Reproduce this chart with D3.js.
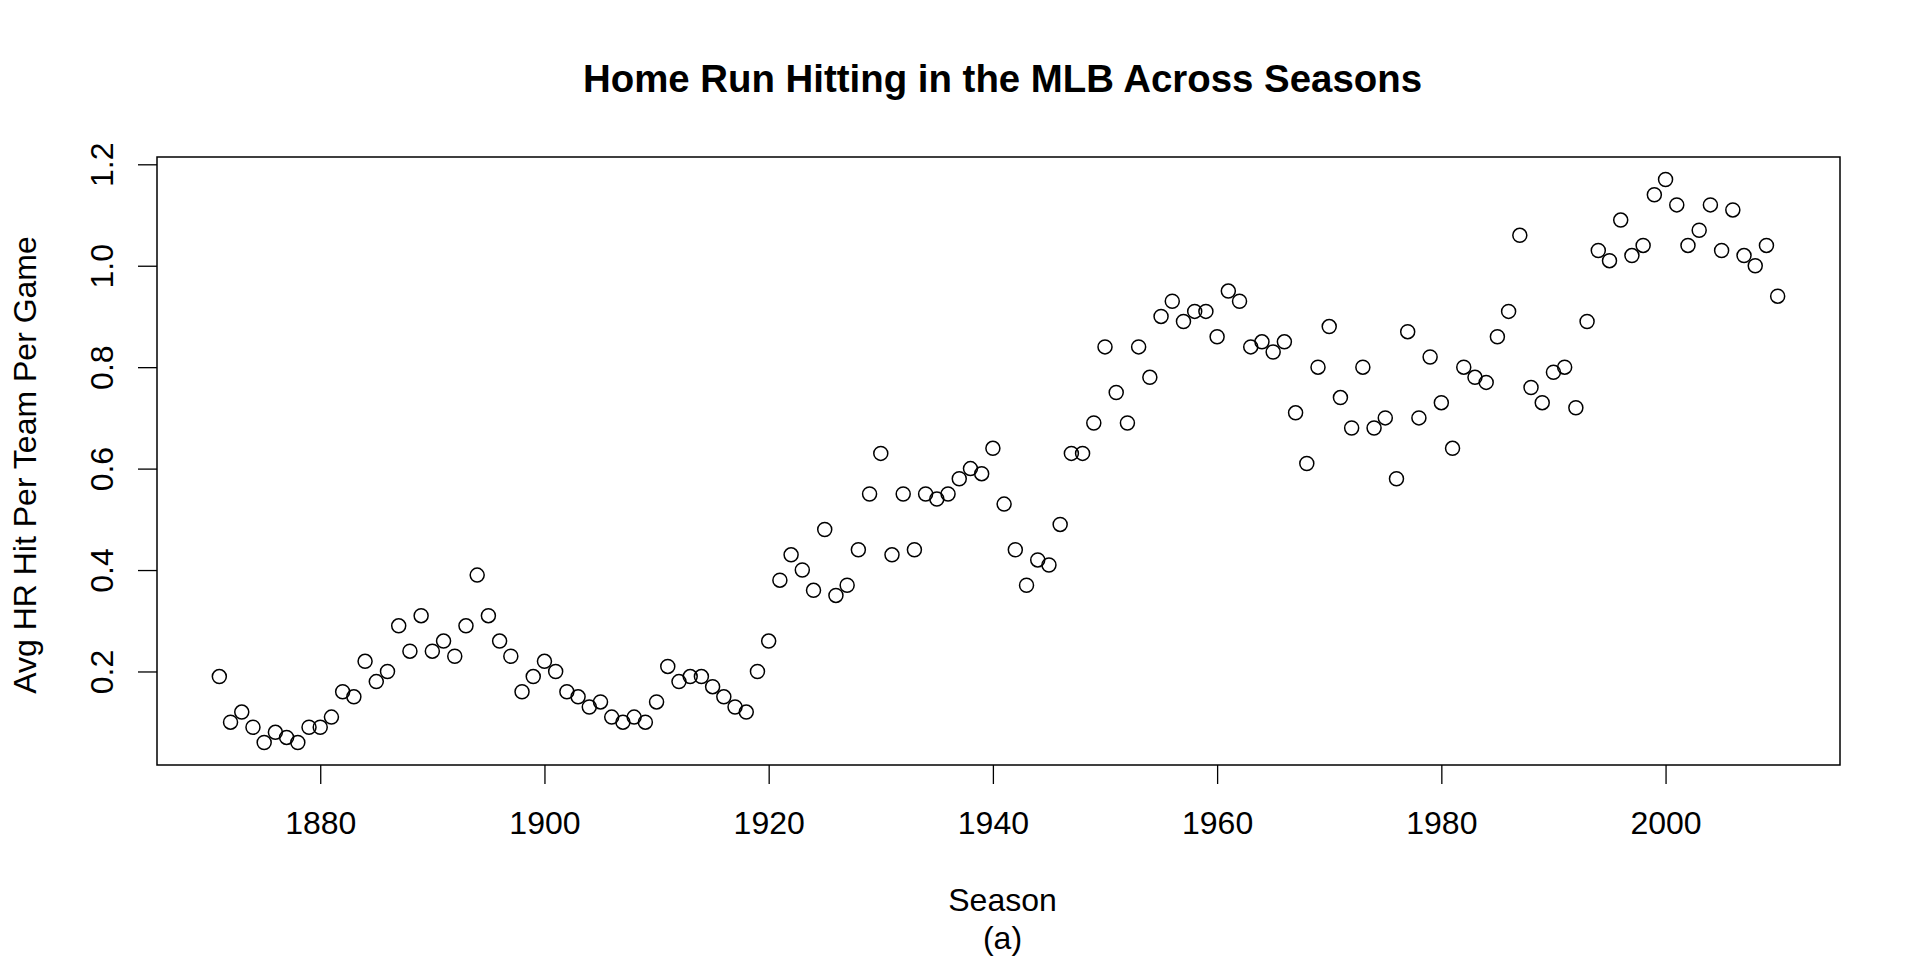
<!DOCTYPE html>
<html>
<head>
<meta charset="utf-8">
<script src="https://cdnjs.cloudflare.com/ajax/libs/d3/7.8.5/d3.min.js"></script>
<style>
  body { margin: 0; background: #fff; }
  text { font-family: "Liberation Sans", Arial, Helvetica, sans-serif; fill: #000; }
</style>
</head>
<body>
<div id="chart"></div>
<script>
// seasons 1871..2010 and average HR per team per game
var seasons = d3.range(1871, 2011);
var avgHR = [
  0.19, 0.10, 0.12, 0.09, 0.06, 0.08, 0.07, 0.06, 0.09, 0.09,   // 1871-1880
  0.11, 0.16, 0.15, 0.22, 0.18, 0.20, 0.29, 0.24, 0.31, 0.24,   // 1881-1890
  0.26, 0.23, 0.29, 0.39, 0.31, 0.26, 0.23, 0.16, 0.19, 0.22,   // 1891-1900
  0.20, 0.16, 0.15, 0.13, 0.14, 0.11, 0.10, 0.11, 0.10, 0.14,   // 1901-1910
  0.21, 0.18, 0.19, 0.19, 0.17, 0.15, 0.13, 0.12, 0.20, 0.26,   // 1911-1920
  0.38, 0.43, 0.40, 0.36, 0.48, 0.35, 0.37, 0.44, 0.55, 0.63,   // 1921-1930
  0.43, 0.55, 0.44, 0.55, 0.54, 0.55, 0.58, 0.60, 0.59, 0.64,   // 1931-1940
  0.53, 0.44, 0.37, 0.42, 0.41, 0.49, 0.63, 0.63, 0.69, 0.84,   // 1941-1950
  0.75, 0.69, 0.84, 0.78, 0.90, 0.93, 0.89, 0.91, 0.91, 0.86,   // 1951-1960
  0.95, 0.93, 0.84, 0.85, 0.83, 0.85, 0.71, 0.61, 0.80, 0.88,   // 1961-1970
  0.74, 0.68, 0.80, 0.68, 0.70, 0.58, 0.87, 0.70, 0.82, 0.73,   // 1971-1980
  0.64, 0.80, 0.78, 0.77, 0.86, 0.91, 1.06, 0.76, 0.73, 0.79,   // 1981-1990
  0.80, 0.72, 0.89, 1.03, 1.01, 1.09, 1.02, 1.04, 1.14, 1.17,   // 1991-2000
  1.12, 1.04, 1.07, 1.12, 1.03, 1.11, 1.02, 1.00, 1.04, 0.94    // 2001-2010
];
var xTicks = [1880, 1900, 1920, 1940, 1960, 1980, 2000];
var yTicks = [0.2, 0.4, 0.6, 0.8, 1.0, 1.2];

var title = "Home Run Hitting in the MLB Across Seasons";
var xLabel = "Season";
var subLabel = "(a)";
var yLabel = "Avg HR Hit Per Team Per Game";

var width = 1920,
    height = 960;

var plot = { left: 157, right: 1840, top: 157, bottom: 765 };

var svg = d3.select('#chart')
    .append('svg')
    .attr('width', width)
    .attr('height', height);

// R style axis range: data range padded by 4% each side
function padded(ext) {
    var d = (ext[1] - ext[0]) * 0.04;
    return [ext[0] - d, ext[1] + d];
}

var x = d3.scaleLinear()
    .domain(padded(d3.extent(seasons)))
    .range([plot.left, plot.right]);

var y = d3.scaleLinear()
    .domain(padded(d3.extent(avgHR)))
    .range([plot.bottom, plot.top]);

var fontSize = 32;

// x axis
var xAxis = svg.append('g')
    .attr('transform', 'translate(0,' + plot.bottom + ')')
    .call(d3.axisBottom(x).tickValues(xTicks).tickFormat(d3.format('d'))
        .tickSize(19).tickPadding(27).tickSizeOuter(0));
xAxis.select('.domain').remove();
xAxis.selectAll('.tick line').attr('stroke', '#000').attr('stroke-width', 1.3);
xAxis.selectAll('.tick text')
    .attr('font-size', fontSize)
    .attr('font-family', '"Liberation Sans", Arial, sans-serif')
    .attr('fill', '#000');

// y axis with rotated labels
var yAxis = svg.append('g')
    .attr('transform', 'translate(' + plot.left + ',0)')
    .call(d3.axisLeft(y).tickValues(yTicks).tickFormat(d3.format('.1f'))
        .tickSize(19).tickSizeOuter(0));
yAxis.select('.domain').remove();
yAxis.selectAll('.tick line').attr('stroke', '#000').attr('stroke-width', 1.3);
yAxis.selectAll('.tick text')
    .attr('font-size', fontSize)
    .attr('font-family', '"Liberation Sans", Arial, sans-serif')
    .attr('fill', '#000')
    .attr('x', null)
    .attr('dy', null)
    .attr('text-anchor', 'middle')
    .attr('transform', 'translate(-44,0) rotate(-90)');

// box
svg.append('rect')
    .attr('x', plot.left)
    .attr('y', plot.top)
    .attr('width', plot.right - plot.left)
    .attr('height', plot.bottom - plot.top)
    .attr('fill', 'none')
    .attr('stroke', '#000')
    .attr('stroke-width', 1.5);

// points
svg.append('g')
    .selectAll('circle')
    .data(seasons)
    .enter()
    .append('circle')
    .attr('cx', function (d) { return x(d); })
    .attr('cy', function (d, i) { return y(avgHR[i]); })
    .attr('r', 7)
    .attr('fill', 'none')
    .attr('stroke', '#000')
    .attr('stroke-width', 1.5);

// titles
var cx = (plot.left + plot.right) / 2;

svg.append('text')
    .attr('x', cx + 4)
    .attr('y', 92)
    .attr('text-anchor', 'middle')
    .attr('font-size', 38.4)
    .attr('font-weight', 'bold')
    .text(title);

svg.append('text')
    .attr('x', cx + 4)
    .attr('y', 911)
    .attr('text-anchor', 'middle')
    .attr('font-size', fontSize)
    .text(xLabel);

svg.append('text')
    .attr('x', cx + 4)
    .attr('y', 949)
    .attr('text-anchor', 'middle')
    .attr('font-size', fontSize)
    .text(subLabel);

svg.append('text')
    .attr('transform', 'translate(36,' + ((plot.top + plot.bottom) / 2 + 4) + ') rotate(-90)')
    .attr('text-anchor', 'middle')
    .attr('font-size', fontSize)
    .text(yLabel);
</script>
</body>
</html>
